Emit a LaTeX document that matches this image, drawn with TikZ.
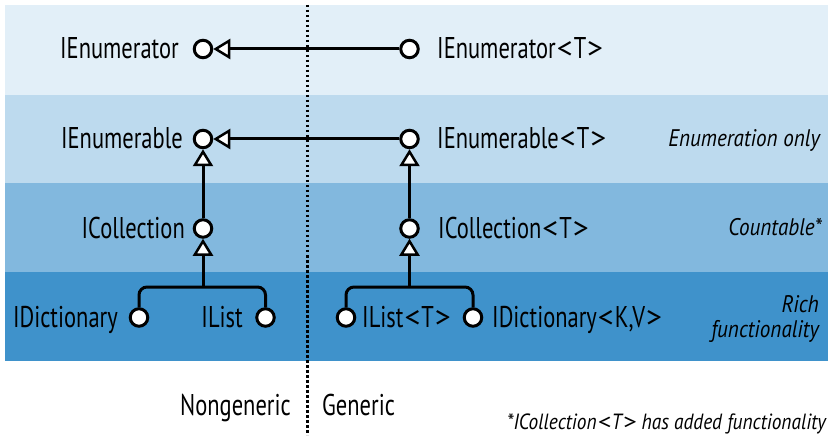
\documentclass[tikz,border=0pt]{standalone}
\usepackage{fontspec}
\usepackage{graphicx}
\setmainfont{PT Sans}[FakeStretch=0.75]
\newfontfamily\notefont{PT Sans}[FakeStretch=0.88]
\usetikzlibrary{arrows.meta}
\definecolor{bandA}{HTML}{E2EFF8}
\definecolor{bandB}{HTML}{BDDAEE}
\definecolor{bandC}{HTML}{82B8DE}
\definecolor{bandD}{HTML}{3F92CB}
\newcommand{\ltg}{\kern1pt\scalebox{1.4}[1]{<}\kern1pt}
\newcommand{\gtg}{\kern1pt\scalebox{1.4}[1]{>}\kern0.5pt}
\tikzset{
  iface/.style={circle,draw,fill=white,line width=3pt,minimum size=17.5pt,inner sep=0pt},
  inhtip/.tip={Triangle[length=17pt,width=20pt,fill=white,line width=2.5pt]},
  inh/.style={line width=3pt,-inhtip},
  conn/.style={line width=3pt},
  sep/.style={line width=2.5pt,dash pattern=on 2.5pt off 2.5pt}
}
\begin{document}
\begin{tikzpicture}[x=1pt,y=-1pt,
  lbl/.style={inner sep=0pt,font=\fontsize{30}{30}\selectfont},
  note/.style={inner sep=0pt,font=\fontsize{24}{24}\notefont\itshape},
  foot/.style={inner sep=0pt,font=\fontsize{22}{22}\notefont\itshape}
]
\useasboundingbox (0,0) rectangle (828,441);
\fill[bandA] (5,5) rectangle (828,95);
\fill[bandB] (5,95) rectangle (828,183);
\fill[bandC] (5,183) rectangle (828,272);
\fill[bandD] (5,272) rectangle (828,361);
\coordinate (sTop) at (307.5,5);
\coordinate (sBot) at (307.5,435);
\draw[sep] (sTop) -- (sBot);
% interface nodes
\node[iface] (enor)  at (203,49) {};
\node[iface] (enorT) at (409.5,49) {};
\node[iface] (enbl)  at (203,139) {};
\node[iface] (enblT) at (409.5,139) {};
\node[iface] (col)   at (203,228.5) {};
\node[iface] (colT)  at (409.5,228.5) {};
\node[iface] (dict)  at (139,317.5) {};
\node[iface] (list)  at (265.5,317.5) {};
\node[iface] (listT) at (346,317.5) {};
\node[iface] (dictT) at (473,317.5) {};
\coordinate (j)  at (203,287);
\coordinate (jT) at (409.5,287);
% connectors
\draw[inh] (enorT.west) -- (enor.east);
\draw[inh] (enblT.west) -- (enbl.east);
\draw[inh] (col.north) -- (enbl.south);
\draw[inh] (colT.north) -- (enblT.south);
\draw[inh] (j) -- (col.south);
\draw[inh] (jT) -- (colT.south);
\draw[conn,rounded corners=8pt] (dict.north) |- (j) -| (list.north);
\draw[conn,rounded corners=8pt] (listT.north) |- (jT) -| (dictT.north);
% labels
\node[lbl,anchor=base east] (tEnor) at (179,59) {IEnumerator};
\node[lbl,anchor=base east] (tEnbl) at (183,149) {IEnumerable};
\node[lbl,anchor=base east] (tCol) at (185,238) {ICollection};
\node[lbl,anchor=base east] (tDict) at (118,327) {IDictionary};
\node[lbl,anchor=base east] (tList) at (243,327) {IList};
\node[lbl,anchor=base west] (tEnorT) at (437,59) {IEnumerator\ltg T\gtg};
\node[lbl,anchor=base west] (tEnblT) at (437,149) {IEnumerable\ltg T\gtg};
\node[lbl,anchor=base west] (tColT) at (438,238) {ICollection\ltg T\gtg};
\node[lbl,anchor=base west] (tListT) at (362,327) {IList\ltg T\gtg};
\node[lbl,anchor=base west] (tDictT) at (492,327) {IDictionary\ltg K,V\gtg};
\node[lbl,anchor=base east] (tNon) at (291,415) {Nongeneric};
\node[lbl,anchor=base west] (tGen) at (322,415) {Generic};
\node[note,anchor=base east] (nEnum) at (820,147) {Enumeration only};
\node[note,anchor=base east] (nCount) at (822,236) {Countable*};
\node[note,anchor=base east] (nRich) at (819,312) {Rich};
\node[note,anchor=base east] (nFunc) at (819,337) {functionality};
\node[foot,anchor=base east] (nFoot) at (826,429) {*ICollection\ltg T\gtg{} has added functionality};
\end{tikzpicture}
\end{document}
